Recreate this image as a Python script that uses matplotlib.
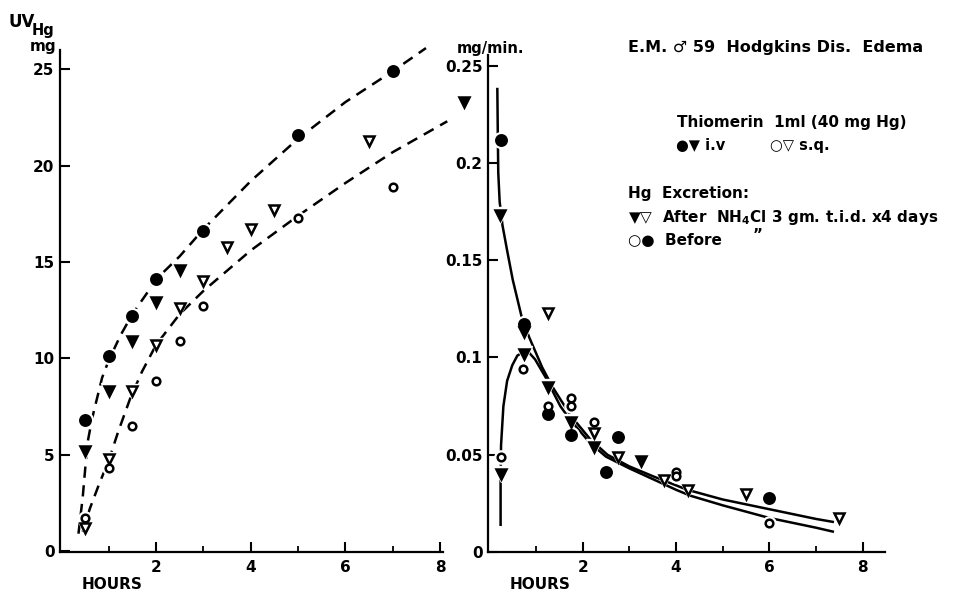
"""
Urinary mercury excretion after Thiomerin (case E.M.) - cumulative UV_Hg (left)
and excretion rate (right), redrawn from the scanned figure.
"""
import matplotlib as mpl
mpl.use("Agg")
import matplotlib.pyplot as plt

plt.rcParams.update({
    "font.family": ["DejaVu Sans"],
    "font.weight": "bold",
    "axes.linewidth": 1.6,
    "xtick.direction": "in",
    "ytick.direction": "in",
    "xtick.major.width": 1.5,
    "ytick.major.width": 1.5,
    "xtick.minor.width": 1.3,
    "xtick.major.size": 7,
    "ytick.major.size": 7,
    "xtick.minor.size": 4,
    "xtick.labelsize": 11,
    "ytick.labelsize": 11,
})

# ---- left panel: cumulative UV_Hg (mg) vs hours ----
cum_iv_before_x = [0.5, 1, 1.5, 2, 3, 5, 7]
cum_iv_before_y = [6.8, 10.1, 12.2, 14.1, 16.6, 21.6, 24.9]
cum_iv_after_x = [0.5, 1, 1.5, 2, 2.5, 8.5]
cum_iv_after_y = [5.2, 8.3, 10.9, 12.9, 14.6, 23.3]
cum_sq_after_x = [0.5, 1, 1.5, 2, 2.5, 3, 3.5, 4, 4.5, 6.5]
cum_sq_after_y = [1.2, 4.8, 8.3, 10.7, 12.6, 14.0, 15.8, 16.7, 17.7, 21.3]
cum_sq_before_x = [0.5, 1, 1.5, 2, 2.5, 3, 5, 7]
cum_sq_before_y = [1.7, 4.3, 6.5, 8.8, 10.9, 12.7, 17.3, 18.9]

# hand-drawn dashed curves
cum_iv_curve_x = [0.36, 0.45, 0.55, 0.65, 0.75, 0.86, 1.0, 1.25, 1.5, 1.84, 2.0,
                  2.5, 3.0, 4.0, 5.0, 6.0, 7.0, 7.7]
cum_iv_curve_y = [0.9, 2.8, 5.6, 6.9, 7.9, 9.0, 9.9, 11.2, 12.3, 13.5, 14.1,
                  15.3, 16.7, 19.2, 21.4, 23.3, 24.9, 26.1]
cum_sq_curve_x = [0.45, 0.6, 0.8, 1.0, 1.2, 1.45, 1.7, 2.0, 2.5, 3.0, 4.0, 5.0,
                  6.0, 7.0, 8.15]
cum_sq_curve_y = [1.0, 2.2, 3.5, 4.7, 6.2, 7.9, 9.3, 10.7, 12.3, 13.5, 15.6, 17.4,
                  19.1, 20.7, 22.3]

# ---- right panel: excretion rate (mg/min) vs hours ----
rate_iv_before_x = [0.25, 0.75, 1.25, 1.75, 2.5, 2.75, 6.0]
rate_iv_before_y = [0.212, 0.117, 0.071, 0.060, 0.041, 0.059, 0.028]
rate_iv_after_x = [0.22, 0.75, 0.75, 1.25, 1.75, 2.25, 3.25, 0.24]
rate_iv_after_y = [0.173, 0.113, 0.102, 0.085, 0.067, 0.054, 0.047, 0.040]
rate_sq_after_x = [1.25, 2.25, 2.75, 3.75, 4.25, 5.5, 7.5]
rate_sq_after_y = [0.123, 0.061, 0.049, 0.037, 0.032, 0.0297, 0.0174]
rate_sq_before_x = [0.24, 0.72, 1.25, 1.75, 1.75, 2.25, 4.0, 4.0, 6.0]
rate_sq_before_y = [0.049, 0.094, 0.075, 0.079, 0.075, 0.067, 0.041, 0.039, 0.015]

rate_iv_curve_x = [0.17, 0.18, 0.19, 0.22, 0.28, 0.38, 0.5, 0.6, 0.7, 0.86, 1.13,
                   1.35, 1.56, 1.78, 2.16, 2.53, 3.0, 3.5, 4.24, 5.0, 6.0, 7.0, 7.36]
rate_iv_curve_y = [0.238, 0.215, 0.195, 0.180, 0.168, 0.155, 0.140, 0.130, 0.120,
                   0.110, 0.095, 0.085, 0.077, 0.069, 0.058, 0.050, 0.044, 0.039,
                   0.032, 0.027, 0.022, 0.017, 0.0155]
rate_sq_curve_x = [0.24, 0.24, 0.25, 0.3, 0.38, 0.49, 0.6, 0.75, 0.85, 0.98, 1.2,
                   1.52, 1.73, 2.16, 2.5, 3.0, 3.5, 4.0, 4.3, 5.0, 6.0, 7.0, 7.36]
rate_sq_curve_y = [0.014, 0.035, 0.055, 0.075, 0.088, 0.096, 0.101, 0.103, 0.1025,
                   0.099, 0.090, 0.075, 0.068, 0.056, 0.049, 0.043, 0.0375, 0.032,
                   0.029, 0.024, 0.0175, 0.0125, 0.0105]

W, H = 960, 595


def fx(px):
    return px / W


def fy(py):
    return 1 - py / H


def marks(ax, x, y, marker, filled, size):
    # white halo first so the curves break around each symbol, as in the original
    ax.plot(x, y, ls="none", marker=marker, ms=size + 4, mfc="white", mec="white",
            zorder=3, clip_on=False)
    ax.plot(x, y, ls="none", marker=marker, ms=size,
            mfc="black" if filled else "white", mec="black", mew=1.8,
            zorder=4, clip_on=False)


def style(ax):
    ax.spines["top"].set_visible(False)
    ax.spines["right"].set_visible(False)
    ax.set_xticks([2, 4, 6, 8])
    ax.set_xticks([1, 3, 5, 7], minor=True)
    ax.tick_params(axis="x", pad=6)
    ax.tick_params(axis="y", pad=4)
    for lab in ax.get_xticklabels() + ax.get_yticklabels():
        lab.set_fontweight("bold")


fig = plt.figure(figsize=(W / 100, H / 100), dpi=100)

# left panel
axL = fig.add_axes([fx(60), 43 / H, 383 / W, 502 / H])
axL.plot(cum_iv_curve_x, cum_iv_curve_y, color="black", lw=1.8, ls=(0, (4.5, 3)),
         zorder=2, clip_on=False)
axL.plot(cum_sq_curve_x, cum_sq_curve_y, color="black", lw=1.8, ls=(0, (4.5, 3)),
         zorder=2, clip_on=False)
marks(axL, cum_iv_before_x, cum_iv_before_y, "o", True, 7.5)
marks(axL, cum_iv_after_x, cum_iv_after_y, "v", True, 7.5)
marks(axL, cum_sq_after_x, cum_sq_after_y, "v", False, 6.5)
marks(axL, cum_sq_before_x, cum_sq_before_y, "o", False, 5.5)
axL.set_xlim(-0.03, 8.06)
axL.set_ylim(-0.05, 26.0)
axL.set_yticks([0, 5, 10, 15, 20, 25])
style(axL)

# right panel
axR = fig.add_axes([fx(488), 43 / H, 397 / W, 497 / H])
axR.plot(rate_iv_curve_x, rate_iv_curve_y, color="black", lw=1.8, zorder=2)
axR.plot(rate_sq_curve_x, rate_sq_curve_y, color="black", lw=1.8, zorder=2)
marks(axR, rate_iv_before_x, rate_iv_before_y, "o", True, 7.5)
marks(axR, rate_iv_after_x, rate_iv_after_y, "v", True, 7.5)
marks(axR, rate_sq_after_x, rate_sq_after_y, "v", False, 6.5)
marks(axR, rate_sq_before_x, rate_sq_before_y, "o", False, 5.5)
axR.set_xlim(-0.03, 8.48)
axR.set_ylim(0, 0.2555)
axR.set_yticks([0, 0.05, 0.1, 0.15, 0.2, 0.25])
axR.set_yticklabels(["0", "0.05", "0.1", "0.15", "0.2", "0.25"])
style(axR)

# axis captions
kw = dict(fontweight="bold", color="black")
fig.text(fx(9), fy(27), "UV", fontsize=12, **kw)
fig.text(fx(32), fy(35), "Hg", fontsize=10.5, **kw)
fig.text(fx(30), fy(51), "mg", fontsize=11, **kw)
fig.text(fx(457), fy(53), "mg/min.", fontsize=10.5, **kw)
fig.text(fx(82), fy(589), "HOURS", fontsize=11, **kw)
fig.text(fx(510), fy(589), "HOURS", fontsize=11, **kw)

# key
fig.text(fx(628), fy(52), "E.M. \u2642 59  Hodgkins Dis.  Edema", fontsize=11.5, **kw)
fig.text(fx(677), fy(127), "Thiomerin  1ml (40 mg Hg)", fontsize=11, **kw)
fig.text(fx(676), fy(150), "\u25cf\u25bc i.v", fontsize=10.5, **kw)
fig.text(fx(770), fy(150), "\u25cb\u25bd s.q.", fontsize=10.5, **kw)
fig.text(fx(628), fy(198), "Hg  Excretion:", fontsize=11, **kw)
fig.text(fx(628), fy(222), "\u25bc\u25bd  After  NH$_4$Cl 3 gm. t.i.d. x4 days",
         fontsize=11, **kw)
fig.text(fx(628), fy(245), "\u25cb\u25cf  Before", fontsize=11, **kw)
fig.text(fx(753), fy(240), "\u201d", fontsize=11, **kw)

fig.savefig("out.png", dpi=100)
